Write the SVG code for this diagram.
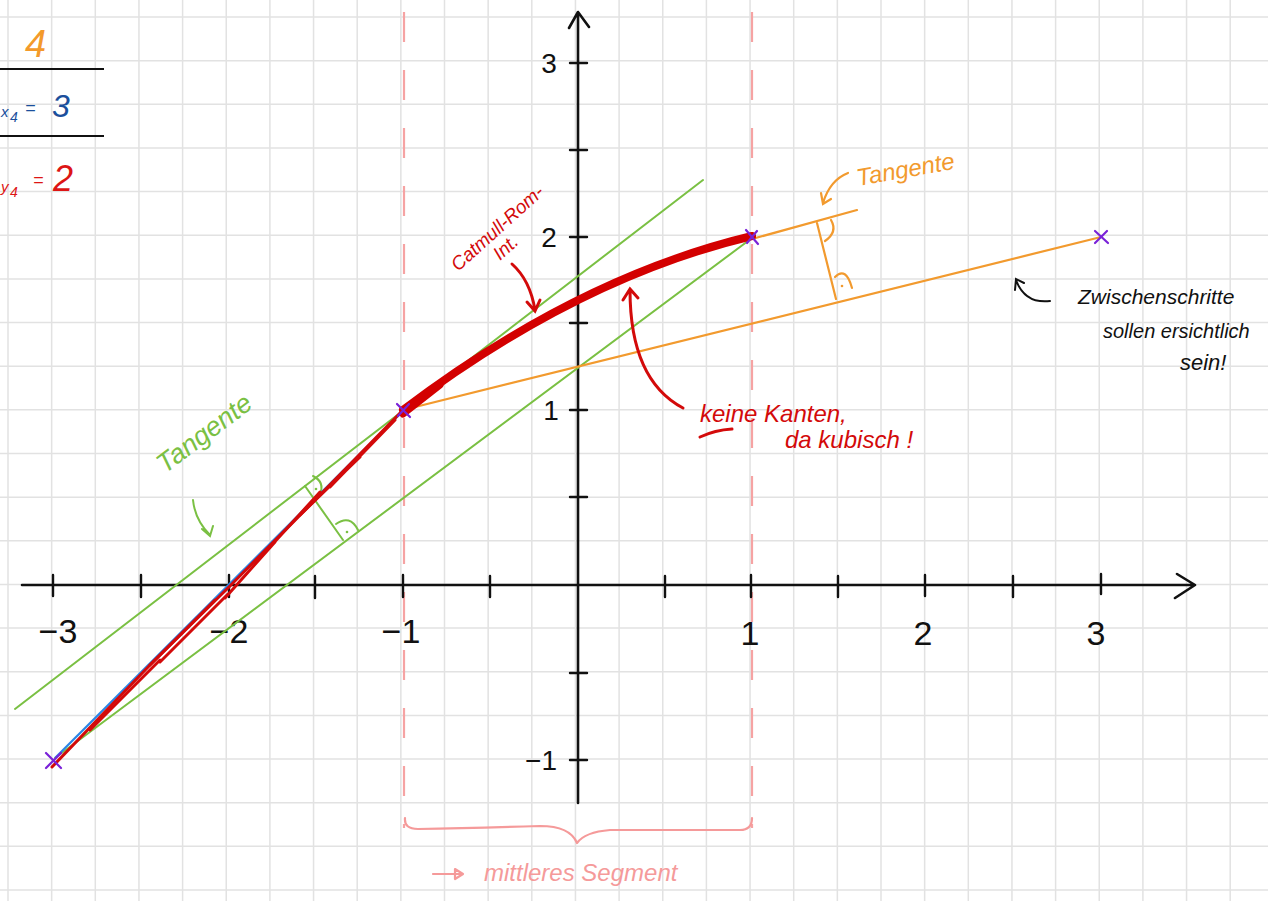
<svg xmlns="http://www.w3.org/2000/svg" width="1268" height="901" viewBox="0 0 1268 901">
<style>
.grid{stroke:#e2e2e2;stroke-width:1.5;fill:none}
.axis{stroke:#111;stroke-width:2.6;fill:none;stroke-linecap:round;stroke-linejoin:round}
.tick{stroke:#111;stroke-width:2.4;stroke-linecap:round}
.lbl{font-family:"Liberation Sans",Arial,sans-serif;fill:#111}
.hand{font-family:"Liberation Sans",Arial,sans-serif;font-style:italic}
.dash{stroke:#f6a3a3;stroke-width:2.2;stroke-dasharray:30 28;fill:none}
.green{stroke:#7ac043;stroke-width:2;fill:none;stroke-linecap:round}
.orange{stroke:#f29a2e;stroke-width:2.2;fill:none;stroke-linecap:round}
.mark{stroke:#7a22d8;stroke-width:2.2;stroke-linecap:round}
.redthin{stroke:#d30a0a;stroke-width:3;fill:none;stroke-linecap:round}
.pink{stroke:#f59a9a;stroke-width:2.2;fill:none;stroke-linecap:round;stroke-linejoin:round}
</style>
<rect width="1268" height="901" fill="#fff"/>
<g id="grid">
<path class="grid" d="M8 0V901M51.65 0V901M95.3 0V901M138.95 0V901M182.6 0V901M226.25 0V901M269.9 0V901M313.55 0V901M357.2 0V901M400.85 0V901M444.5 0V901M488.15 0V901M531.8 0V901M575.45 0V901M619.1 0V901M662.75 0V901M706.4 0V901M750.05 0V901M793.7 0V901M837.35 0V901M881 0V901M924.65 0V901M968.3 0V901M1011.95 0V901M1055.6 0V901M1099.25 0V901M1142.9 0V901M1186.55 0V901M1230.2 0V901M1273.85 0V901"/>
<path class="grid" d="M0 17H1268M0 60.65H1268M0 104.3H1268M0 147.95H1268M0 191.6H1268M0 235.25H1268M0 278.9H1268M0 322.55H1268M0 366.2H1268M0 409.85H1268M0 453.5H1268M0 497.15H1268M0 540.8H1268M0 584.45H1268M0 628.1H1268M0 671.75H1268M0 715.4H1268M0 759.05H1268M0 802.7H1268M0 846.35H1268M0 890H1268"/>
</g>
<g id="legend">
<text class="hand" x="25" y="57" font-size="38" fill="#f39a2b" font-style="normal">4</text>
<line x1="0" y1="69" x2="104" y2="69" stroke="#111" stroke-width="2"/>
<text class="hand" x="1" y="117" font-size="15" fill="#1b4f9c" font-style="normal">x</text>
<text class="hand" x="10" y="122" font-size="14" fill="#1b4f9c" font-style="normal">4</text>
<text class="hand" x="25" y="114" font-size="18" fill="#1b4f9c" font-style="normal">=</text>
<text class="hand" x="52" y="117" font-size="32" fill="#1b4f9c" font-style="normal">3</text>
<line x1="0" y1="136" x2="104" y2="136" stroke="#111" stroke-width="2"/>
<text class="hand" x="1" y="192" font-size="15" fill="#dd1515" font-style="normal">y</text>
<text class="hand" x="10" y="197" font-size="14" fill="#dd1515" font-style="normal">4</text>
<text class="hand" x="33" y="186" font-size="18" fill="#dd1515" font-style="normal">=</text>
<text class="hand" x="53" y="191" font-size="36" fill="#dd1515" font-style="normal">2</text>
</g>
<g id="segment-bounds">
<line class="dash" x1="404" y1="12" x2="404" y2="828"/>
<line class="dash" x1="752" y1="12" x2="752" y2="828"/>
</g>
<g id="axes">
<path class="axis" d="M22 585H1195M1177 574L1195 585L1175 598"/>
<path class="axis" d="M578 803V12M569 28L578 12L589 27"/>
<path class="tick" d="M53 575V596M141 575V597M229 575V597M315 576V598M403 575V597M490 576V597M665 576V597M751 575V597M838 576V597M925 575V596M1013 576V597M1101 574V594"/>
<path class="tick" d="M570 63H587M570 150H587M570 237H587M570 323H587M570 410H587M570 497H587M570 673H587M570 760H587"/>
<text class="lbl" x="58" y="643" font-size="34" text-anchor="middle">−3</text>
<text class="lbl" x="229" y="643" font-size="34" text-anchor="middle">−2</text>
<text class="lbl" x="401" y="643" font-size="34" text-anchor="middle">−1</text>
<text class="lbl" x="750" y="645" font-size="34" text-anchor="middle">1</text>
<text class="lbl" x="923" y="645" font-size="34" text-anchor="middle">2</text>
<text class="lbl" x="1096" y="645" font-size="34" text-anchor="middle">3</text>
<text class="lbl" x="549" y="73" font-size="28" text-anchor="middle">3</text>
<text class="lbl" x="549" y="247" font-size="28" text-anchor="middle">2</text>
<text class="lbl" x="551" y="420" font-size="28" text-anchor="middle">1</text>
<text class="lbl" x="541" y="770" font-size="28" text-anchor="middle">−1</text>
</g>
<g id="tangent-green">
<line class="green" x1="15" y1="709" x2="703" y2="180"/>
<line class="green" x1="55" y1="758" x2="752" y2="238"/>
<path class="green" d="M305 486L343 540"/>
<path class="green" d="M313 476Q325 482 320 494"/>
<circle cx="316" cy="489" r="1.3" fill="#7ac043"/>
<path class="green" d="M336 524Q350 514 358 530"/>
<circle cx="347" cy="532" r="1.3" fill="#7ac043"/>
<text class="hand" x="0" y="0" font-size="27" fill="#7ac043" transform="translate(165 474) rotate(-37)">Tangente</text>
<path class="green" d="M193 500Q195 520 210 535M202 529L210 536L213 526"/>
</g>
<g id="tangent-orange">
<line class="orange" x1="403" y1="410" x2="1101" y2="237"/>
<line class="orange" x1="752" y1="239" x2="857" y2="210"/>
<path class="orange" d="M817 223L836 299"/>
<path class="orange" d="M831 220Q838 232 825 241"/>
<path class="orange" d="M835 277Q846 266 852 288"/>
<circle cx="842" cy="286" r="1.3" fill="#f29a2e"/>
<text class="hand" x="0" y="0" font-size="24" fill="#f29a2e" transform="translate(858 186) rotate(-10)">Tangente</text>
<path class="orange" d="M848 173Q830 180 823 203M821 193L823 204L831 199"/>
</g>
<g id="curve">
<line x1="55" y1="758" x2="402" y2="412" stroke="#2a86e6" stroke-width="2.2"/>
<path class="redthin" d="M52 767L150 665L230 586L320 495L403 410"/>
<path class="redthin" stroke-width="2.5" d="M90 730L160 660M150 665L215 600M160 662L228 594M225 598L275 542M270 547L320 492M300 515L360 457M330 487L395 420"/>
<path d="M403 410C519 322 635 264 752 236" stroke="#d30000" stroke-width="8" fill="none" stroke-linecap="round"/>
<path d="M403 414L440 385" stroke="#d30000" stroke-width="7" fill="none" stroke-linecap="round"/>
</g>
<g id="points">
<path class="mark" d="M46 753L61 768M61 753L46 768"/>
<path class="mark" d="M397 404L410 417M409 404L398 416"/>
<path class="mark" d="M746 230L758 244M757 231L747 243"/>
<path class="mark" d="M1095 231L1108 243M1107 231L1095 243"/>
</g>
<g id="notes">
<text class="hand" x="0" y="0" font-size="19" fill="#d30a0a" transform="translate(458 272) rotate(-42)">Catmull-Rom-</text>
<text class="hand" x="0" y="0" font-size="19" fill="#d30a0a" transform="translate(500 261) rotate(-42)">Int.</text>
<path class="redthin" stroke-width="2.2" d="M512 264Q530 280 535 310M527 302L535 311L540 300"/>
<path class="redthin" stroke-width="2.2" d="M683 408Q630 380 630 290M623 300L630 289L638 298"/>
<text class="hand" x="700" y="422" font-size="24" fill="#d30a0a">keine Kanten,</text>
<path class="redthin" stroke-width="2.2" d="M700 437Q715 430 732 429"/>
<text class="hand" x="785" y="448" font-size="24" fill="#d30a0a">da kubisch !</text>
<path d="M1050 301Q1025 304 1016 280M1015 290L1016 279L1024 283" stroke="#111" stroke-width="2" fill="none" stroke-linecap="round"/>
<text class="hand" x="1078" y="304" font-size="21" fill="#111">Zwischenschritte</text>
<text class="hand" x="1103" y="338" font-size="20" fill="#111">sollen ersichtlich</text>
<text class="hand" x="1180" y="370" font-size="22" fill="#111">sein!</text>
</g>
<g id="brace">
<path class="pink" d="M405 818Q404 829 418 829Q470 828 540 826Q570 826 577 843Q585 832 610 830L740 830Q752 830 752 818"/>
<path class="pink" d="M433 874H462M455 869L463 874L455 879Z"/>
<text class="hand" x="484" y="881" font-size="24" fill="#f59a9a">mittleres Segment</text>
</g>
</svg>
